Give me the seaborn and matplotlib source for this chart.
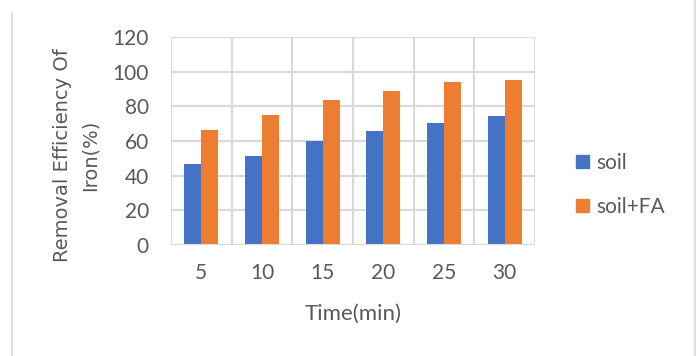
import numpy as np
import pandas as pd
import matplotlib
matplotlib.use("Agg")
import matplotlib.pyplot as plt
from matplotlib.lines import Line2D
import seaborn as sns

# data
times = ["5", "10", "15", "20", "25", "30"]
soil = [47.0, 51.2, 59.9, 66.0, 70.3, 74.5]
soil_fa = [66.2, 75.1, 83.8, 88.8, 94.2, 95.1]
series_names = ["soil", "soil+FA"]
colors = ["#4472C4", "#ED7D31"]

df = pd.DataFrame({
    "Time": times * 2,
    "Value": soil + soil_fa,
    "Series": [series_names[0]] * len(times) + [series_names[1]] * len(times),
})

sns.set_style("white")
plt.rcParams["font.family"] = ["Lato", "DejaVu Sans"]
text_color = "#595959"
grid_color = "#D9D9D9"
W, H = 697, 356

fig = plt.figure(figsize=(W / 100, H / 100), dpi=100)
ax = fig.add_axes([171 / W, 1 - 245 / H, (535 - 171) / W, (245 - 37) / H])

sns.barplot(data=df, x="Time", y="Value", hue="Series", order=times,
            hue_order=series_names, palette=colors, width=0.56, gap=0,
            edgecolor="none", saturation=1, ax=ax, zorder=3)

ax.set_ylim(0, 120)
ax.set_yticks(np.arange(0, 121, 20))
ax.set_xlim(-0.5, len(times) - 0.5)
ax.set_xticks(np.arange(-0.5, len(times), 1), minor=True)
ax.grid(True, axis="y", color=grid_color, linewidth=1.5, zorder=0)
ax.grid(True, axis="x", which="minor", color=grid_color, linewidth=1.5, zorder=0)
ax.grid(False, axis="x", which="major")
for s in ax.spines.values():
    s.set_visible(False)
ax.axhline(0, color=grid_color, linewidth=1.5, zorder=4)

ax.tick_params(axis="both", which="both", length=0, labelsize=15, colors=text_color)
ax.tick_params(axis="x", pad=13)
ax.tick_params(axis="y", pad=16)
ax.set_xlabel("")
ax.set_ylabel("")

fig.text(353 / W, 1 - 314 / H, "Time(min)", fontsize=16, color=text_color,
         ha="center", va="center")
fig.text(76 / W, 1 - 155 / H, "Removal Efficiency Of\nIron(%)", fontsize=14,
         family="DejaVu Sans", color=text_color, rotation=90, ha="center",
         va="center", multialignment="center", linespacing=1.6)

ax.legend_.remove()
handles = [plt.Rectangle((0, 0), 1, 1, color=c) for c in colors]
fig.legend(handles, series_names, loc="center left", bbox_to_anchor=(576 / W, 1 - 185 / H),
           frameon=False, fontsize=15, labelcolor=text_color, handlelength=0.63,
           handleheight=0.6, handletextpad=0.34, labelspacing=1.15,
           borderpad=0, borderaxespad=0)

# partial chart border as in the reference
fig.add_artist(Line2D([12 / W, 12 / W], [0, 1 - 13 / H], color=grid_color,
                      linewidth=1.2, transform=fig.transFigure))
fig.add_artist(Line2D([695 / W, 695 / W], [0, 1], color=grid_color,
                      linewidth=1.2, transform=fig.transFigure))

fig.savefig("out.png", dpi=100)
